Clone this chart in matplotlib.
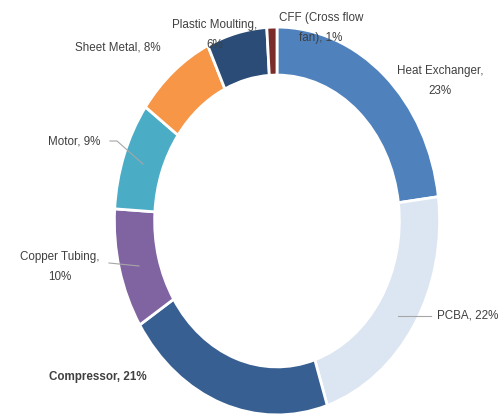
import matplotlib

matplotlib.use("Agg")
import matplotlib.pyplot as plt

# cost share by component, clockwise from 12 o'clock
components = [
    "Heat Exchanger",
    "PCBA",
    "Compressor",
    "Copper Tubing",
    "Motor",
    "Sheet Metal",
    "Plastic Moulting",
    "CFF (Cross flow fan)",
]
shares = [23, 22, 21, 10, 9, 8, 6, 1]
colors = ["#4F81BD", "#DCE6F2", "#375F92", "#8064A2", "#4BACC6", "#F79646", "#2B4C76", "#7A2C2A"]

# label text (with line breaks), anchor in pixels and alignment
label_text = [
    "Heat Exchanger,\n{}%",
    "PCBA, {}%",
    "Compressor, {}%",
    "Copper Tubing,\n{}%",
    "Motor, {}%",
    "Sheet Metal, {}%",
    "Plastic Moulting,\n{}%",
    "CFF (Cross flow\nfan), {}%",
]
label_xy = [(440, 81), (437, 316), (98, 377), (60, 267), (74, 142), (118, 47), (215, 35), (321, 28)]
label_ha = ["center", "left", "center", "center", "center", "center", "center", "center"]

W, H = 500, 416
CX, CY, RX, RY = 277, 221, 161, 192
TEXT = "#404040"


def to_axes(x, y):
    return x / W, 1 - y / H


fig = plt.figure(figsize=(5.0, 4.16), dpi=100)
ax = fig.add_axes([0, 0, 1, 1])

ax.pie(
    shares,
    colors=colors,
    startangle=90,
    counterclock=False,
    radius=1.01,
    wedgeprops=dict(width=0.25, edgecolor="white", linewidth=2.0),
)
ax.set_aspect("auto")
ax.set_xlim(-CX / RX, (W - CX) / RX)
ax.set_ylim(-(H - CY) / RY, CY / RY)
ax.axis("off")

for i, (name, val) in enumerate(zip(components, shares)):
    x, y = to_axes(*label_xy[i])
    ax.text(
        x, y, label_text[i].format(val),
        transform=ax.transAxes, ha=label_ha[i], va="center",
        fontsize=8.4, family="Liberation Sans", color=TEXT,
        linespacing=1.95,
        fontweight="bold" if name == "Compressor" else "normal",
    )

# leader lines
leaders = [
    [(398, 316), (431, 316)],
    [(109, 263), (139, 266)],
    [(110, 141), (117, 141), (143, 164)],
]
for pts in leaders:
    xs, ys = zip(*[to_axes(px, py) for px, py in pts])
    ax.plot(xs, ys, color="#A6A6A6", linewidth=0.8, transform=ax.transAxes)

fig.savefig("out.png", dpi=100, facecolor="white")
